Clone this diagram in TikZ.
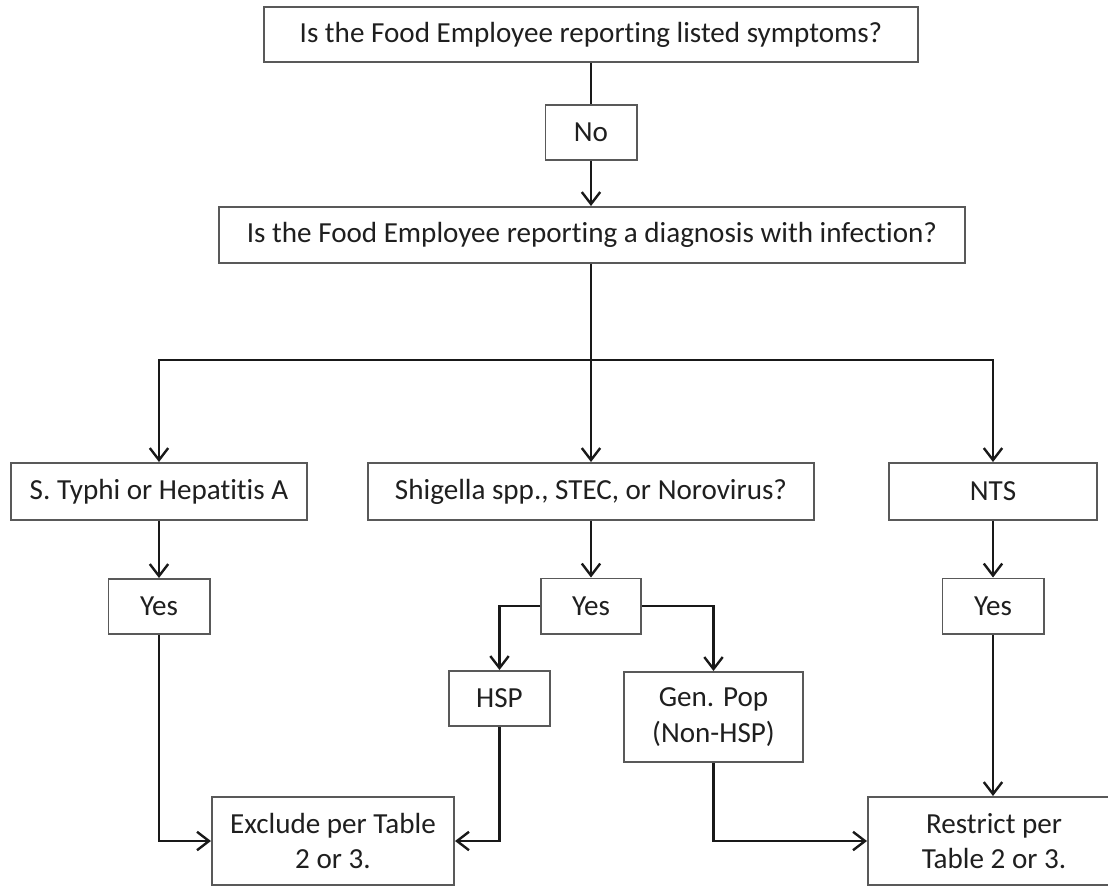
\documentclass[tikz,border=0pt]{standalone}
\usepackage{fontspec}
\setmainfont{Carlito}[Ligatures=NoCommon]
\usetikzlibrary{arrows.meta}

\begin{document}
\begin{tikzpicture}[x=0.025cm,y=-0.025cm,
  box/.style={draw=black!65, line width=1.4pt, fill=white, inner sep=0pt, align=center,
    text=black!88, font=\fontsize{20.7}{25}\selectfont},
  link/.style={line width=2.1pt, black!90},
  flow/.style={link, -{Straight Barb[length=0.3cm,width=0.46cm,line width=1.7pt]}}]

\useasboundingbox (0,0) rectangle (1108,886);
\clip (0,0) rectangle (1108,886);

% questions
\node[box, minimum width=16.35cm, minimum height=1.375cm] (q1) at (591,34.5) {Is the Food Employee reporting listed symptoms?};
\node[box, minimum width=2.275cm, minimum height=1.375cm] (no) at (591,132.5) {No};
\node[box, minimum width=18.625cm, minimum height=1.4cm] (q2) at (592,235) {Is the Food Employee reporting a diagnosis with infection?};
\coordinate (split) at (591,360);

% diagnoses
\node[box, minimum width=7.4cm, minimum height=1.425cm] (typhi) at (159,491.5) {S. Typhi or Hepatitis A};
\node[box, minimum width=11.125cm, minimum height=1.425cm] (shig) at (591,491.5) {Shigella spp., STEC, or Norovirus?};
\node[box, minimum width=5.2cm, minimum height=1.425cm] (nts) at (993,491.5) {NTS};

\node[box, minimum width=2.525cm, minimum height=1.375cm] (yesA) at (159,606.5) {Yes};
\node[box, minimum width=2.5cm, minimum height=1.375cm] (yesB) at (591,606) {Yes};
\node[box, minimum width=2.525cm, minimum height=1.375cm] (yesC) at (993,606) {Yes};

\node[box, minimum width=2.525cm, minimum height=1.375cm] (hsp) at (499.5,698.5) {HSP};
\node[box, minimum width=4.475cm, minimum height=2.25cm] (genpop) at (713.5,717) {Gen. Pop\\(Non-HSP)};

% outcomes
\node[box, minimum width=6.05cm, minimum height=2.2cm] (exclude) at (333,841) {Exclude per Table\\2 or 3.};
\node[box, minimum width=6.3cm, minimum height=2.2cm] (restrict) at (994,841) {Restrict per\\Table 2 or 3.};

\draw[link] (q1) -- (no);
\draw[flow] (no) -- (q2.north -| no);
\draw[link] (q2.south -| split) -- (split);
\draw[flow] (split) -| (typhi);
\draw[flow] (split) -- (shig);
\draw[flow] (split) -| (nts);

\draw[flow] (typhi) -- (yesA);
\draw[flow] (shig) -- (yesB);
\draw[flow] (nts) -- (yesC);

\draw[flow] (yesB.west) -| (hsp);
\draw[flow] (yesB.east) -| (genpop);

\draw[flow] (yesA) |- (exclude);
\draw[flow] (hsp) |- (exclude);
\draw[flow] (genpop) |- (restrict);
\draw[flow] (yesC) -- (restrict.north -| yesC);

\end{tikzpicture}
\end{document}
